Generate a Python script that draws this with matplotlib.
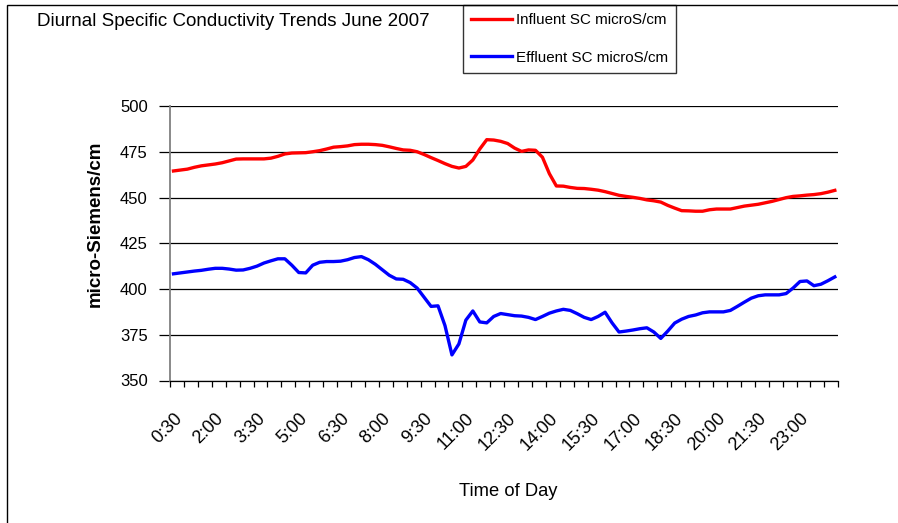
import matplotlib
matplotlib.use("Agg")
import matplotlib.pyplot as plt
from matplotlib.patches import Rectangle
from matplotlib.transforms import ScaledTranslation
import numpy as np

plt.rcParams['font.family'] = ['Liberation Sans', 'DejaVu Sans']

# 15 minute readings starting at 0:30
influent = [464.5, 465, 465.5, 466.5, 467.3, 467.8, 468.3, 469, 470, 471,
            471.1, 471.1, 471.1, 471.1, 471.5, 472.5, 473.8, 474.3, 474.4, 474.5,
            475, 475.6, 476.5, 477.5, 477.8, 478.2, 478.9, 479.1, 479.1, 478.9,
            478.5, 477.7, 476.8, 476, 475.8, 475, 473.5, 471.8, 470.2, 468.5,
            467, 466.1, 467, 470.5, 476.5, 481.6, 481.4, 480.7, 479.5, 477,
            475.2, 476, 475.8, 472, 463, 456.3, 456.2, 455.5, 455, 454.9,
            454.5, 454, 453.2, 452.2, 451.2, 450.6, 450.1, 449.5, 448.7, 448.2,
            447.5, 445.7, 444.2, 442.8, 442.7, 442.5, 442.5, 443.3, 443.7, 443.7,
            443.7, 444.5, 445.3, 445.8, 446.3, 447.1, 447.9, 448.9, 449.9, 450.6,
            450.9, 451.3, 451.6, 452.1, 452.9, 453.9]

effluent = [408.3, 408.8, 409.3, 409.8, 410.2, 410.8, 411.3, 411.3, 410.9, 410.3,
            410.4, 411.3, 412.5, 414.2, 415.4, 416.5, 416.5, 413, 409, 408.8,
            413, 414.6, 415, 415, 415.2, 416.0, 417.2, 417.7, 416, 413.5,
            410.5, 407.5, 405.5, 405.3, 403.5, 400.5, 395.5, 390.5, 390.8, 380,
            364, 370, 383, 388, 382, 381.5, 385, 386.6, 386, 385.4,
            385.2, 384.5, 383.3, 385, 386.8, 388, 388.9, 388.3, 386.5, 384.5,
            383.3, 385, 387.3, 381.5, 376.5, 377, 377.6, 378.3, 378.8, 376.5,
            373, 377, 381.4, 383.5, 385, 385.8, 387, 387.5, 387.5, 387.5,
            388.3, 390.5, 392.8, 395, 396.3, 396.8, 396.8, 396.8, 397.5, 400.5,
            404.1, 404.4, 401.8, 402.6, 404.5, 406.6]

time_labels = ['0:30', '2:00', '3:30', '5:00', '6:30', '8:00', '9:30', '11:00',
               '12:30', '14:00', '15:30', '17:00', '18:30', '20:00', '21:30', '23:00']

W, H = 898, 523
fig = plt.figure(figsize=(W / 100, H / 100), dpi=100)
ax = fig.add_axes([170 / W, (H - 380.5) / H, (838.3 - 170) / W, (380.5 - 106) / H])

n = len(influent)
x = np.arange(n) + 0.5
ax.plot(x, influent, color='#FF0000', linewidth=2.4, label='Influent SC microS/cm')
ax.plot(x, effluent, color='#0000FF', linewidth=2.4, label='Effluent SC microS/cm')

ax.set_xlim(0, n)
ax.set_ylim(350, 500)
ax.set_yticks(np.arange(350, 501, 25))
ax.yaxis.grid(True, color='black', linewidth=0.9)
ax.set_axisbelow(True)

ax.set_xticks(np.arange(0, n, 6) + 0.5)
ax.set_xticklabels(time_labels, rotation=45, ha='right', va='top',
                   rotation_mode='anchor', fontsize=13)
shift = ScaledTranslation(-7 / 100, 0, fig.dpi_scale_trans)
for lbl in ax.get_xticklabels():
    lbl.set_transform(lbl.get_transform() + shift)
ax.set_xticks(np.arange(0, n + 1, 2), minor=True)
ax.tick_params(axis='x', which='major', length=0, pad=21)
ax.tick_params(axis='x', which='minor', length=4.5, width=0.9, direction='out')
ax.tick_params(axis='y', length=8, width=0.9, direction='out', labelsize=12, pad=8)

for s in ['top', 'right']:
    ax.spines[s].set_visible(False)
ax.spines['left'].set_color('#808080')
ax.spines['left'].set_linewidth(1.3)
ax.spines['bottom'].set_linewidth(0.9)

fig.text(95 / W, 1 - 223.5 / H, 'micro-Siemens/cm', rotation=90, ha='center', va='center',
         fontsize=13.5, fontweight='bold')
fig.text(508 / W, 1 - 491 / H, 'Time of Day', ha='center', va='center', fontsize=13.2)
fig.text(37 / W, 1 - 22 / H, 'Diurnal Specific Conductivity Trends June 2007',
         ha='left', va='center', fontsize=13.5)

leg = ax.legend(loc='upper left', bbox_to_anchor=(463 / W, 1 - 5 / H),
                bbox_transform=fig.transFigure, fontsize=10.9, frameon=True,
                fancybox=False, edgecolor='black', handlelength=2.7,
                handletextpad=0.25, labelspacing=1.55, borderpad=0.55,
                borderaxespad=0)
leg.get_frame().set_linewidth(1.0)

fig.add_artist(Rectangle((6.5 / W, -0.1), 1.0, 1.1 - 5.5 / H, transform=fig.transFigure,
                         fill=False, edgecolor='black', linewidth=1.0))

fig.savefig('out.png', dpi=100)
